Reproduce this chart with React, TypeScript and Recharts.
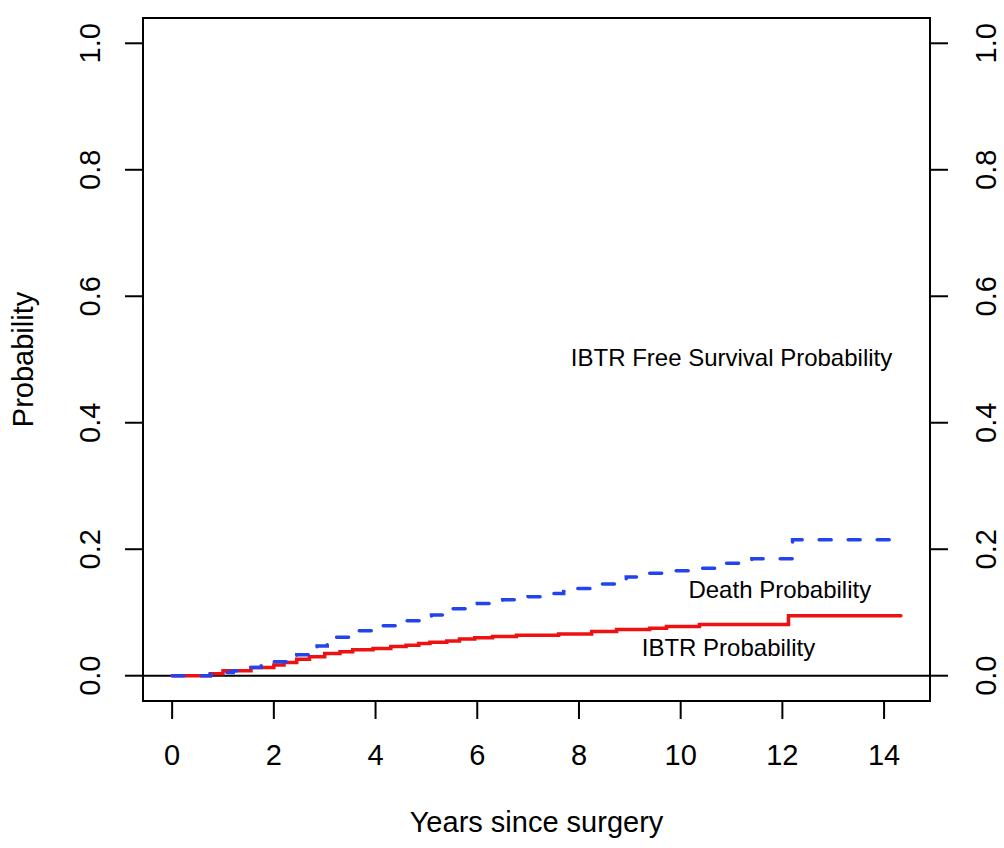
import React from 'react';
import {
  ComposedChart,
  Line,
  XAxis,
  YAxis,
  ReferenceLine,
  ReferenceArea,
  ReferenceDot,
  Label,
} from 'recharts';

// ---- data ----
const xTicks = [0, 2, 4, 6, 8, 10, 12, 14];
const yTicks = [0, 0.2, 0.4, 0.6, 0.8, 1.0];

const ibtrYears = [0, 0.75, 1.0, 1.55, 2.0, 2.2, 2.45, 2.7, 3.0, 3.3, 3.55, 3.95, 4.3, 4.6, 4.85, 5.07, 5.4, 5.65, 5.95, 6.3, 6.77, 7.6, 8.25, 8.74, 9.39, 9.72, 10.37, 12.12, 14.33];
const ibtrProb = [0, 0.003, 0.008, 0.013, 0.017, 0.021, 0.026, 0.03, 0.035, 0.038, 0.041, 0.043, 0.046, 0.048, 0.051, 0.053, 0.055, 0.058, 0.06, 0.062, 0.064, 0.066, 0.07, 0.073, 0.075, 0.078, 0.081, 0.095, 0.095];

const deathYears = [0, 0.75, 1.0, 1.2, 1.5, 1.75, 2.0, 2.3, 2.45, 2.7, 2.85, 3.05, 3.2, 3.5, 3.65, 4.0, 4.15, 4.55, 4.6, 5.0, 5.1, 5.4, 5.52, 5.85, 6.0, 6.4, 6.5, 6.9, 7.0, 7.4, 7.7, 7.95, 8.3, 8.44, 8.8, 8.93, 9.2, 9.39, 9.9, 10.4, 10.8, 10.9, 11.3, 11.4, 12.2, 14.33];
const deathProb = [0, 0.002, 0.005, 0.008, 0.013, 0.017, 0.022, 0.028, 0.033, 0.04, 0.047, 0.055, 0.061, 0.066, 0.071, 0.075, 0.079, 0.083, 0.087, 0.092, 0.096, 0.101, 0.106, 0.11, 0.114, 0.117, 0.12, 0.124, 0.125, 0.13, 0.133, 0.138, 0.141, 0.145, 0.15, 0.156, 0.159, 0.162, 0.166, 0.17, 0.174, 0.178, 0.182, 0.185, 0.215, 0.215];

const noteTexts = ['IBTR Free Survival Probability', 'Death Probability', 'IBTR Probability'];
const noteX = [11.0, 11.95, 10.94];
const noteY = [0.503, 0.137, 0.044];

const xDomain: [number, number] = [-0.573, 14.903];
const yDomain: [number, number] = [-0.04, 1.04];

const ibtrData = ibtrYears.map((x, i) => ({ x, y: ibtrProb[i] }));
const deathData = deathYears.map((x, i) => ({ x, y: deathProb[i] }));

const FONT = '"Liberation Sans", Arial, Helvetica, sans-serif';
const RED = '#EE1111';
const BLUE = '#2244EE';

const fmt = (v: number) => v.toFixed(1);

const XTick = (props: any) => {
  const { x, y, payload } = props;
  return (
    <text x={x} y={y + 46} textAnchor="middle" fontFamily={FONT} fontSize={29} fill="#000">
      {payload.value}
    </text>
  );
};

const LeftTick = (props: any) => {
  const { x, y, payload } = props;
  return (
    <text
      transform={`translate(${x - 25}, ${y}) rotate(-90)`}
      textAnchor="middle"
      fontFamily={FONT}
      fontSize={29}
      fill="#000"
    >
      {fmt(payload.value)}
    </text>
  );
};

const RightTick = (props: any) => {
  const { x, y, payload } = props;
  return (
    <text
      transform={`translate(${x + 48}, ${y}) rotate(-90)`}
      textAnchor="middle"
      fontFamily={FONT}
      fontSize={29}
      fill="#000"
    >
      {fmt(payload.value)}
    </text>
  );
};

export default function App() {
  return (
    <div style={{ position: 'absolute', left: 0, top: 0, background: '#fff' }}>
      <ComposedChart
        width={1004}
        height={848}
        margin={{ top: 18, right: 0, bottom: 0, left: 0 }}
      >
        <XAxis
          dataKey="x"
          type="number"
          domain={xDomain}
          allowDataOverflow
          ticks={xTicks}
          interval={0}
          height={147}
          axisLine={false}
          tickLine={{ stroke: '#000', strokeWidth: 2 }}
          tickSize={18}
          tickMargin={0}
          tick={<XTick />}
        >
          <Label
            content={(p: any) => {
              const vb = p.viewBox || { x: 143, y: 701, width: 787 };
              return (
                <text
                  x={vb.x + vb.width / 2}
                  y={vb.y + 131}
                  textAnchor="middle"
                  fontFamily={FONT}
                  fontSize={29}
                  fill="#000"
                >
                  Years since surgery
                </text>
              );
            }}
          />
        </XAxis>
        <YAxis
          yAxisId="left"
          type="number"
          domain={yDomain}
          allowDataOverflow
          ticks={yTicks}
          interval={0}
          width={143}
          axisLine={false}
          tickLine={{ stroke: '#000', strokeWidth: 2 }}
          tickSize={18}
          tickMargin={0}
          tick={<LeftTick />}
        >
          <Label
            content={(p: any) => {
              const vb = p.viewBox || { x: 0, y: 18, width: 143, height: 683 };
              return (
                <text
                  transform={`translate(${vb.x + 33}, ${vb.y + vb.height / 2}) rotate(-90)`}
                  textAnchor="middle"
                  fontFamily={FONT}
                  fontSize={29}
                  fill="#000"
                >
                  Probability
                </text>
              );
            }}
          />
        </YAxis>
        <YAxis
          yAxisId="right"
          orientation="right"
          type="number"
          domain={yDomain}
          allowDataOverflow
          ticks={yTicks}
          interval={0}
          width={74}
          axisLine={false}
          tickLine={{ stroke: '#000', strokeWidth: 2 }}
          tickSize={18}
          tickMargin={0}
          tick={<RightTick />}
        />
        <ReferenceLine yAxisId="left" y={0} stroke="#000" strokeWidth={2} />
        <Line
          yAxisId="left"
          data={ibtrData}
          dataKey="y"
          type="stepAfter"
          stroke={RED}
          strokeWidth={3.5}
          strokeLinecap="round"
          dot={false}
          activeDot={false}
          isAnimationActive={false}
        />
        <Line
          yAxisId="left"
          data={deathData}
          dataKey="y"
          type="stepAfter"
          stroke={BLUE}
          strokeWidth={3.5}
          strokeLinecap="round"
          strokeDasharray="12 17"
          dot={false}
          activeDot={false}
          isAnimationActive={false}
        />
        {noteTexts.map((t, i) => (
          <ReferenceDot
            key={t}
            yAxisId="left"
            x={noteX[i]}
            y={noteY[i]}
            r={0}
            fill="none"
            stroke="none"
            label={{ value: t, position: 'center', fontSize: 24, fill: '#000', fontFamily: FONT }}
          />
        ))}
        <ReferenceArea
          yAxisId="left"
          x1={xDomain[0]}
          x2={xDomain[1]}
          y1={yDomain[0]}
          y2={yDomain[1]}
          fill="none"
          fillOpacity={0}
          stroke="#000"
          strokeWidth={2}
        />
      </ComposedChart>
    </div>
  );
}
